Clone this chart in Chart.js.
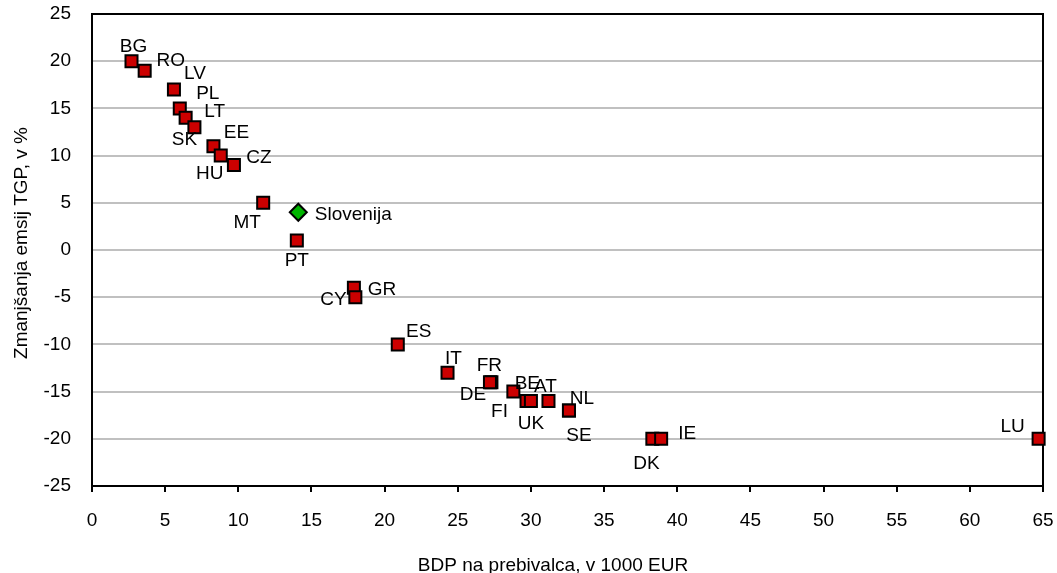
<!DOCTYPE html>
<html>
<head>
<meta charset="utf-8">
<script src="https://cdn.jsdelivr.net/npm/chart.js@4.4.1/dist/chart.umd.min.js"></script>
<style>
  body { margin: 0; background: #fff; }
  canvas { display: block; }
</style>
</head>
<body>
<canvas id="chart" width="1057" height="573"></canvas>
<script>
// podatki: BDP na prebivalca (1000 EUR) in zmanjšanje emisij TGP (%)
const countries = ["BG", "RO", "LV", "PL", "LT", "SK", "EE", "HU", "CZ", "MT", "PT", "GR", "CY",
  "ES", "IT", "FR", "DE", "BE", "FI", "UK", "AT", "NL", "SE", "DK", "IE", "LU"];
const gdp = [2.7, 3.6, 5.6, 6.0, 6.4, 7.0, 8.3, 8.8, 9.7, 11.7, 14.0, 17.9, 18.0,
  20.9, 24.3, 27.3, 27.2, 28.8, 29.7, 30.0, 31.2, 32.6, 32.6, 38.3, 38.9, 64.7];
const reduction = [20, 19, 17, 15, 14, 13, 11, 10, 9, 5, 1, -4, -5,
  -10, -13, -14, -14, -15, -16, -16, -16, -17, -17, -20, -20, -20];

const sloName = "Slovenija";
const sloGdp = [14.1];
const sloReduction = [4];

const xTicks = [0, 5, 10, 15, 20, 25, 30, 35, 40, 45, 50, 55, 60, 65];
const yTicks = [-25, -20, -15, -10, -5, 0, 5, 10, 15, 20, 25];

// zamik oznak glede na točko (px), kot so ročno postavljene v izvirniku
const labelOffsets = [[2, -16], [26, -12], [21, -18], [28, -16], [29, -8], [-10, 11], [23, -15],
  [-11, 16], [25, -9], [-16, 18], [0, 18], [28, 0], [-22, 1], [21, -14], [6, -16], [-2, -18],
  [-17, 11], [14, -10], [-27, 9], [0, 21], [-3, -16], [13, -13], [10, 24], [-6, 23], [26, -7],
  [-26, -14]];
const sloOffset = [55, 1];

const FONT = "'Liberation Sans', Arial, sans-serif";

// okvir okoli risalne površine
const frame = {
  id: "frame",
  beforeDatasetsDraw(chart) {
    const { ctx, chartArea: a } = chart;
    ctx.save();
    ctx.strokeStyle = "#000";
    ctx.lineWidth = 2;
    ctx.strokeRect(a.left, a.top, a.right - a.left, a.bottom - a.top);
    ctx.restore();
  },
};

// oznake držav in naslova osi
const labels = {
  id: "labels",
  afterDatasetsDraw(chart) {
    const { ctx } = chart;
    ctx.save();
    ctx.fillStyle = "#000";
    ctx.font = `19px ${FONT}`;
    ctx.textAlign = "center";
    ctx.textBaseline = "alphabetic";

    const drawSet = (idx, names, offsets) => {
      chart.getDatasetMeta(idx).data.forEach((pt, i) => {
        const [dx, dy] = offsets[i];
        ctx.fillText(names[i], pt.x + dx, pt.y + dy + 7);
      });
    };
    drawSet(0, countries, labelOffsets);
    drawSet(1, [sloName], [sloOffset]);

    // naslov osi x
    ctx.fillText("BDP na prebivalca, v 1000 EUR", 553, 571);

    // naslov osi y
    ctx.translate(27, 243);
    ctx.rotate(-Math.PI / 2);
    ctx.fillText("Zmanjšanja emsij TGP, v %", 0, 0);
    ctx.restore();
  },
};

const ctx = document.getElementById("chart");

new Chart(ctx, {
  type: "scatter",
  data: {
    datasets: [
      {
        label: "EU",
        data: gdp.map((x, i) => ({ x, y: reduction[i] })),
        pointStyle: "rect",
        pointRadius: 8.5,
        pointHoverRadius: 8.5,
        backgroundColor: "#cc0000",
        borderColor: "#000",
        borderWidth: 2,
        clip: false,
      },
      {
        label: sloName,
        data: sloGdp.map((x, i) => ({ x, y: sloReduction[i] })),
        pointStyle: "rectRot",
        pointRadius: 8.5,
        pointHoverRadius: 8.5,
        backgroundColor: "#00b400",
        borderColor: "#000",
        borderWidth: 2,
        clip: false,
      },
    ],
  },
  options: {
    responsive: false,
    devicePixelRatio: 1,
    animation: false,
    layout: { padding: { top: 14, right: 14, left: 0, bottom: 0 } },
    plugins: {
      legend: { display: false },
      tooltip: { enabled: false },
    },
    scales: {
      x: {
        type: "linear",
        min: xTicks[0],
        max: xTicks[xTicks.length - 1],
        afterBuildTicks: (s) => { s.ticks = xTicks.map((v) => ({ value: v })); },
        afterFit: (s) => {
          s.height = 87;
          s.paddingLeft = 0;
          s.paddingRight = 0;
        },
        ticks: { color: "#000", font: { family: FONT, size: 19 }, padding: 17, maxRotation: 0 },
        grid: { display: true, drawOnChartArea: false, drawTicks: true, tickLength: 6, color: "#000", lineWidth: 2 },
        border: { display: true, color: "#000", width: 2 },
      },
      y: {
        type: "linear",
        min: yTicks[0],
        max: yTicks[yTicks.length - 1],
        afterBuildTicks: (s) => { s.ticks = yTicks.map((v) => ({ value: v })); },
        afterFit: (s) => {
          s.width = 92;
          s.paddingTop = 0;
          s.paddingBottom = 0;
        },
        ticks: { color: "#000", font: { family: FONT, size: 19 }, padding: 21 },
        grid: { color: "#c0c0c0", lineWidth: 2, drawTicks: false },
        border: { display: true, color: "#000", width: 2 },
      },
    },
  },
  plugins: [frame, labels],
});
</script>
</body>
</html>
